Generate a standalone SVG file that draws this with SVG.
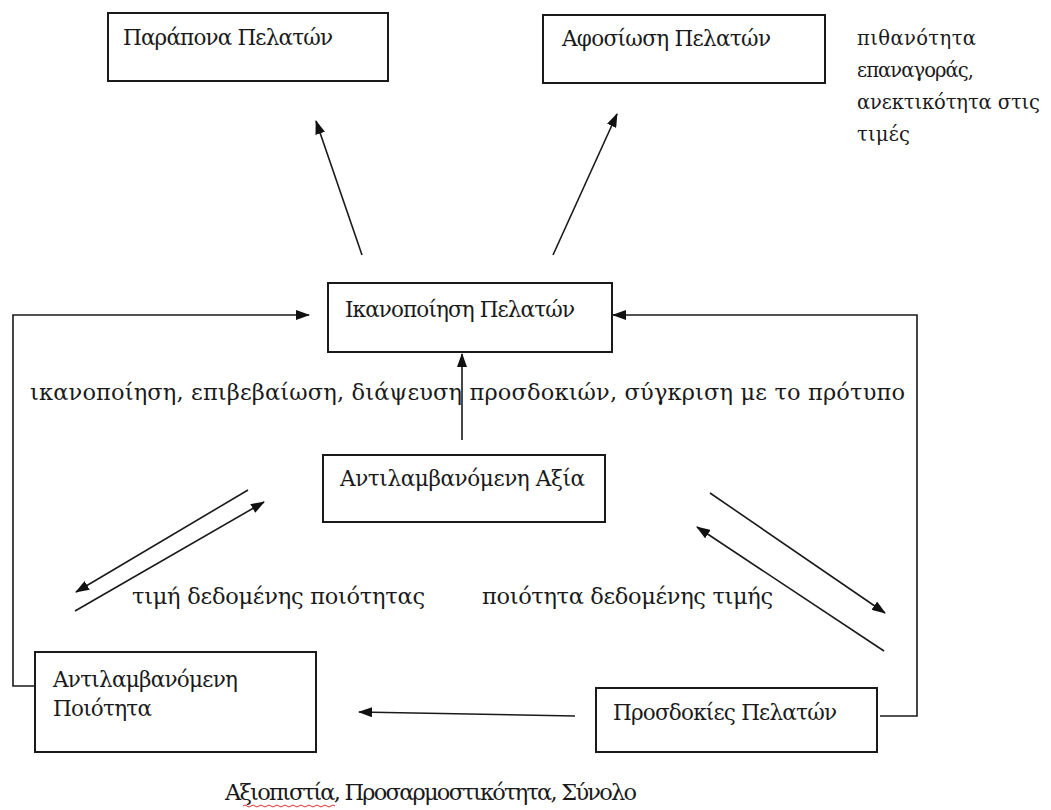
<svg xmlns="http://www.w3.org/2000/svg" width="1051" height="810" viewBox="0 0 1051 810">
  <style>
    .box { fill: #fff; stroke: #1a1a1a; stroke-width: 2; }
    text { font-family: "DejaVu Serif", "Liberation Serif", "Times New Roman", serif; fill: #1a1a1a; }
    .lbl { font-size: 21.5px; }
    .big { font-size: 22.5px; }
    .side { font-size: 19.5px; }
    .ln { fill: none; stroke: #1a1a1a; stroke-width: 1.6; }
    .arr { marker-end: url(#head); }
  </style>
  <defs>
    <marker id="head" markerWidth="14" markerHeight="10" refX="13" refY="5" orient="auto" markerUnits="userSpaceOnUse">
      <path d="M0,0 L14,5 L0,10 Z" fill="#111"/>
    </marker>
  </defs>
  <rect width="1051" height="810" fill="#fff"/>

  <!-- connectors -->
  <g id="connectors">
    <line class="ln arr" x1="362" y1="255" x2="316" y2="121"/>
    <line class="ln arr" x1="553" y1="255" x2="617" y2="114"/>
    <polyline class="ln arr" points="35,686 13,686 13,315 309,315"/>
    <polyline class="ln arr" points="880,716 917,716 917,315 613,315"/>
    <line class="ln arr" x1="462" y1="440" x2="462" y2="354"/>
    <line class="ln arr" x1="248" y1="490" x2="76" y2="592"/>
    <line class="ln arr" x1="75" y1="611" x2="264" y2="502"/>
    <line class="ln arr" x1="710" y1="493" x2="885" y2="613"/>
    <line class="ln arr" x1="884" y1="651" x2="697" y2="527"/>
    <line class="ln arr" x1="575" y1="716" x2="359" y2="712"/>
  </g>

  <g id="complaints">
    <rect class="box" x="108" y="13" width="280" height="68"/>
    <text class="lbl" x="123" y="45" textLength="210">Παράπονα Πελατών</text>
  </g>

  <g id="loyalty">
    <rect class="box" x="543" y="15" width="282" height="68"/>
    <text class="lbl" x="562" y="46" textLength="209">Αφοσίωση Πελατών</text>
  </g>

  <g id="loyalty-note">
    <text class="side" x="857" y="45" textLength="119">πιθανότητα</text>
    <text class="side" x="857" y="77" textLength="117">επαναγοράς,</text>
    <text class="side" x="857" y="109" textLength="183">ανεκτικότητα στις</text>
    <text class="side" x="857" y="141" textLength="53">τιμές</text>
  </g>

  <g id="satisfaction">
    <rect class="box" x="328" y="283" width="284" height="69"/>
    <text class="lbl" x="345" y="317" textLength="230">Ικανοποίηση Πελατών</text>
  </g>

  <text class="big" x="30" y="400" textLength="875">ικανοποίηση, επιβεβαίωση, διάψευση προσδοκιών, σύγκριση με το πρότυπο</text>

  <g id="perceived-value">
    <rect class="box" x="323" y="455" width="282" height="67"/>
    <text class="lbl" x="340" y="486" textLength="245">Αντιλαμβανόμενη Αξία</text>
  </g>

  <text class="big" x="132" y="604" textLength="293">τιμή δεδομένης ποιότητας</text>
  <text class="big" x="482" y="604" textLength="291">ποιότητα δεδομένης τιμής</text>

  <g id="perceived-quality">
    <rect class="box" x="35" y="652" width="281" height="100"/>
    <text class="lbl" x="53" y="687" textLength="185">Αντιλαμβανόμενη</text>
    <text class="lbl" x="53" y="716" textLength="99">Ποιότητα</text>
  </g>

  <g id="expectations">
    <rect class="box" x="596" y="688" width="281" height="64"/>
    <text class="lbl" x="613" y="720" textLength="224">Προσδοκίες Πελατών</text>
  </g>

  <g id="quality-dimensions">
    <text class="big" x="225" y="800" textLength="412">Αξιοπιστία, Προσαρμοστικότητα, Σύνολο</text>
    <!-- spell-check squiggle under the first word -->
    <path d="M243,806 q2,-2 4,0 t4,0 t4,0 t4,0 t4,0 t4,0 t4,0 t4,0 t4,0 t4,0 t4,0 t4,0 t4,0 t4,0 t4,0 t4,0 t4,0 t4,0 t4,0 t4,0 t4,0 t4,0 t4,0" fill="none" stroke="#e03030" stroke-width="1"/>
  </g>
</svg>
